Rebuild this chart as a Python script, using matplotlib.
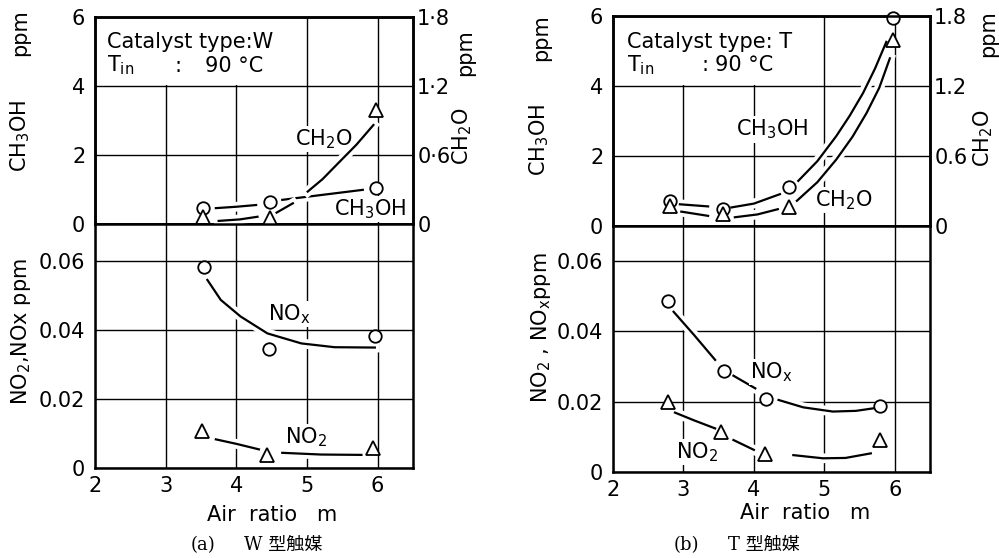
import numpy as np
import matplotlib.pyplot as plt
import matplotlib.patheffects as pe
from matplotlib.patches import Rectangle

plt.rcParams['font.family'] = ['DejaVu Sans']
plt.rcParams['mathtext.fontset'] = 'dejavusans'

nan = np.nan

# ---------------- (a) catalyst W ----------------
w_m = [3.53, 4.47, 5.98]
w_ch3oh = [0.47, 0.63, 1.04]          # ppm (left axis)
w_ch2o = [0.065, 0.05, 0.99]          # ppm (right axis)
w_nox_m = [3.54, 4.46, 5.96]
w_nox = [0.0583, 0.0344, 0.0383]
w_no2_m = [3.52, 4.44, 5.94]
w_no2 = [0.0108, 0.0038, 0.0057]

# hand drawn trend lines (nan = break in the line)
w_ch3oh_fit_m = [3.71, 4.0, 4.28, nan, 4.65, 5.2, 5.79]
w_ch3oh_fit = [0.46, 0.50, 0.55, nan, 0.70, 0.84, 0.99]
w_ch2o_fit_m = [3.75, 4.05, 4.3, nan, 4.57, 4.8, nan, 5.01, 5.22, 5.44, 5.7, 5.94]
w_ch2o_fit = [0.027, 0.040, 0.063, nan, 0.099, 0.18, nan, 0.282, 0.39, 0.528, 0.69, 0.861]
w_nox_fit_m = [3.59, 3.78, 4.06, 4.44, 4.92, 5.39, 5.96]
w_nox_fit = [0.0545, 0.0487, 0.0439, 0.0390, 0.0361, 0.0350, 0.0349]
w_no2_fit_m = [3.71, 4.0, 4.32, nan, 4.65, 5.2, 5.77]
w_no2_fit = [0.0083, 0.0070, 0.0054, nan, 0.0044, 0.0039, 0.0038]

# ---------------- (b) catalyst T ----------------
t_m = [2.81, 3.56, 4.50, 5.98]
t_ch3oh = [0.72, 0.48, 1.10, 5.93]
t_ch2o = [0.168, 0.102, 0.159, 1.593]
t_nox_m = [2.78, 3.57, 4.17, 5.79]
t_nox = [0.0486, 0.0288, 0.0208, 0.0189]
t_no2_m = [2.78, 3.54, 4.16, 5.79]
t_no2 = [0.0198, 0.0115, 0.0050, 0.0091]

t_ch3oh_fit_m = [2.95, 3.35, nan, 3.68, 4.0, 4.37, nan, 4.63, 4.9, 5.17, 5.36, 5.55, 5.72, 5.88]
t_ch3oh_fit = [0.62, 0.56, nan, 0.53, 0.64, 0.91, nan, 1.29, 1.85, 2.57, 3.15, 3.80, 4.50, 5.26]
t_ch2o_fit_m = [2.97, 3.35, nan, 3.73, 4.05, 4.34, nan, 4.61, 4.9, 5.17, 5.4, 5.6, 5.78, 5.93]
t_ch2o_fit = [0.123, 0.087, nan, 0.075, 0.099, 0.144, nan, 0.216, 0.375, 0.57, 0.765, 0.969, 1.185, 1.437]
t_nox_fit_m = [2.86, 3.15, 3.45, nan, 3.71, 4.02, nan, 4.35, 4.7, 5.12, 5.45, 5.69]
t_nox_fit = [0.0456, 0.0390, 0.0319, nan, 0.0274, 0.0238, nan, 0.0205, 0.0184, 0.0172, 0.0174, 0.0181]
t_no2_fit_m = [2.88, 3.15, 3.45, nan, 3.71, 4.0, nan, 4.56, 4.98, 5.3, 5.66]
t_no2_fit = [0.0169, 0.0147, 0.0124, nan, 0.0091, 0.0063, nan, 0.0048, 0.0039, 0.0040, 0.0053]

W, H = 999, 558
fig = plt.figure(figsize=(W / 100, H / 100), dpi=100)


def box(x0, y0, x1, y1):
    return [x0 / W, 1 - y1 / H, (x1 - x0) / W, (y1 - y0) / H]


halo = [pe.withStroke(linewidth=7, foreground='white')]
line_kw = dict(color='black', lw=1.6, zorder=3, path_effects=halo)
circ_kw = dict(ls='none', marker='o', ms=9, mfc='white', mec='black', mew=1.3, zorder=5)
tri_kw = dict(ls='none', marker='^', ms=10, mfc='white', mec='black', mew=1.3, zorder=5)
lab_kw = dict(fontsize=15, ha='center', va='center', zorder=4,
              bbox=dict(facecolor='white', edgecolor='none', pad=1))


def style(ax, ylim, yticks, ylabels):
    ax.set_xlim(2, 6.5)
    ax.set_ylim(*ylim)
    ax.set_xticks([2, 3, 4, 5, 6])
    ax.set_yticks(yticks)
    ax.set_yticklabels(ylabels)
    for s in ax.spines.values():
        s.set_linewidth(1.8)
    ax.tick_params(length=0, labelsize=15, pad=7)
    ax.tick_params(axis='x', pad=6)
    ax.grid(True, color='black', lw=1.0)
    ax.set_axisbelow(True)


def top_panel(pos, m, ch3oh, ch2o, f1m, f1, f2m, f2, right_labels, txt):
    ax = fig.add_axes(box(*pos))
    style(ax, (0, 6), [0, 2, 4, 6], ['0', '2', '4', '6'])
    ax.tick_params(axis='x', labelbottom=False)
    ax.add_patch(Rectangle((2, 4.04), 2.96, 1.96, facecolor='white',
                           edgecolor='none', zorder=1))
    ax.text(txt[0], 5.1, txt[1], fontsize=15, zorder=4)
    ax.text(txt[0], 4.42, 'T$_{\\rm in}$', fontsize=15, zorder=4)
    ax.text(txt[2], 4.42, ':', fontsize=15, zorder=4)
    ax.text(txt[3], 4.42, '90 °C', fontsize=15, zorder=4)
    ax.plot(f1m, f1, **line_kw)
    ax.plot(m, ch3oh, clip_on=False, **circ_kw)
    ax2 = ax.twinx()
    ax2.set_ylim(0, 1.8)
    ax2.set_yticks([0, 0.6, 1.2, 1.8])
    ax2.set_yticklabels(right_labels)
    ax2.tick_params(length=0, labelsize=15, pad=3)
    for s in ax2.spines.values():
        s.set_linewidth(1.8)
    ax2.plot(f2m, f2, **line_kw)
    ax2.plot(m[:len(ch2o)], ch2o, clip_on=False, **tri_kw)
    return ax, ax2


def bottom_panel(pos, ymax, nox_m, nox, no2_m, no2, f1m, f1, f2m, f2):
    ax = fig.add_axes(box(*pos))
    style(ax, (0, ymax), [0, 0.02, 0.04, 0.06], ['0', '0.02', '0.04', '0.06'])
    ax.plot(f1m, f1, **line_kw)
    ax.plot(f2m, f2, **line_kw)
    ax.plot(nox_m, nox, **circ_kw)
    ax.plot(no2_m, no2, **tri_kw)
    return ax


# ---- panel (a)
a_top, a_top2 = top_panel((95, 17, 413, 224), w_m, w_ch3oh, w_ch2o,
                          w_ch3oh_fit_m, w_ch3oh_fit, w_ch2o_fit_m, w_ch2o_fit,
                          ['0', '0·6', '1·2', '1·8'],
                          (2.17, 'Catalyst type:W', 3.12, 3.55))
a_top.text(5.24, 2.46, 'CH$_2$O', **lab_kw)
a_top.text(5.9, 0.43, 'CH$_3$OH', **lab_kw)
a_bot = bottom_panel((95, 224, 413, 468), 0.0707, w_nox_m, w_nox, w_no2_m, w_no2,
                     w_nox_fit_m, w_nox_fit, w_no2_fit_m, w_no2_fit)
a_bot.text(4.75, 0.0446, 'NO$_{\\rm x}$', **lab_kw)
a_bot.text(4.99, 0.009, 'NO$_2$', **lab_kw)

# ---- panel (b)
b_top, b_top2 = top_panel((613, 16, 930, 226), t_m, t_ch3oh, t_ch2o,
                          t_ch3oh_fit_m, t_ch3oh_fit, t_ch2o_fit_m, t_ch2o_fit,
                          ['0', '0.6', '1.2', '1.8'],
                          (2.2, 'Catalyst type: T', 3.25, 3.45))
b_top.text(4.26, 2.76, 'CH$_3$OH', **lab_kw)
b_top.text(5.28, 0.74, 'CH$_2$O', **lab_kw)
b_bot = bottom_panel((613, 226, 930, 472), 0.070, t_nox_m, t_nox, t_no2_m, t_no2,
                     t_nox_fit_m, t_nox_fit, t_no2_fit_m, t_no2_fit)
b_bot.text(4.25, 0.0284, 'NO$_{\\rm x}$', **lab_kw)
b_bot.text(3.19, 0.0057, 'NO$_2$', **lab_kw)


# ---- axis titles and captions (figure pixel positions)
def ftext(x, y, s, **kw):
    kw.setdefault('fontsize', 15)
    fig.text(x / W, 1 - y / H, s, ha='center', va='center', **kw)


ftext(20, 33, 'ppm', rotation=90)
ftext(20, 136, 'CH$_3$OH', rotation=90)
ftext(465, 53, 'ppm', rotation=90)
ftext(462, 136, 'CH$_2$O', rotation=90)
ftext(21, 332, 'NO$_2$,NOx ppm', rotation=90)
ftext(272, 515, 'Air  ratio   m', fontsize=15)

ftext(541, 38, 'ppm', rotation=90)
ftext(539, 140, 'CH$_3$OH', rotation=90)
ftext(988, 34, 'ppm', rotation=90)
ftext(983, 138, 'CH$_2$O', rotation=90)
ftext(541, 328, 'NO$_2$ , NO$_{\\rm x}$ppm', rotation=90)
ftext(805, 513, 'Air  ratio   m', fontsize=15)

cap = dict(fontsize=13, family=['DejaVu Serif', 'Noto Sans CJK JP'])
ftext(203, 545, '(a)', **cap)
ftext(283, 545, 'W 型触媒', **cap)
ftext(686, 545, '(b)', **cap)
ftext(764, 545, 'T 型触媒', **cap)

fig.savefig('out.png', dpi=100, facecolor='white')
